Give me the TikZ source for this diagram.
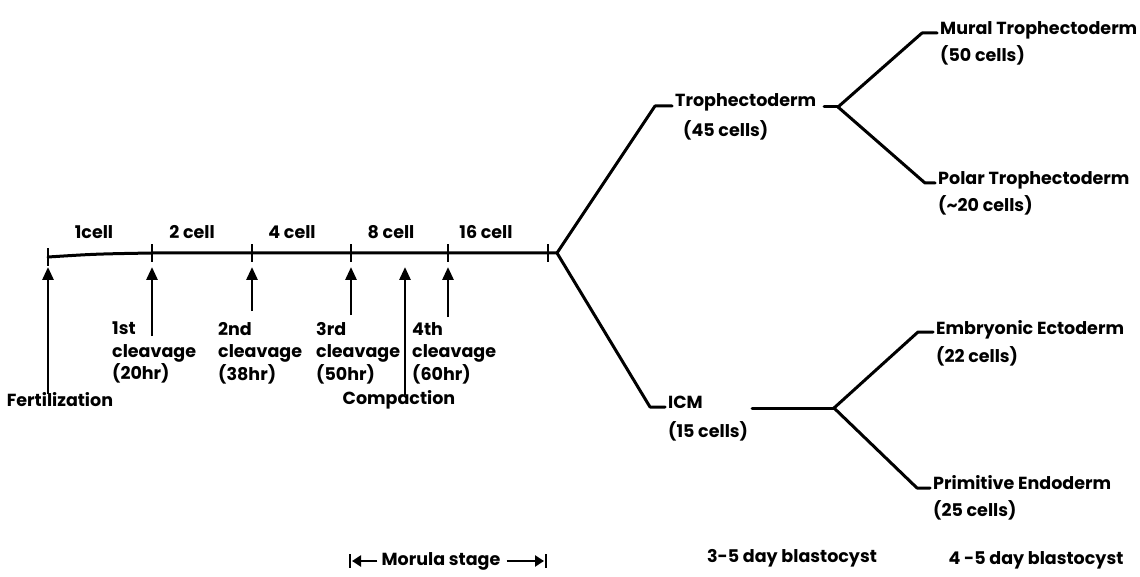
\documentclass[tikz,border=0pt]{standalone}
\usepackage{fontspec}
\setmainfont{Poppins}
\usetikzlibrary{arrows.meta}

\begin{document}
\begin{tikzpicture}[x=1pt,y=-1pt,
  lbl/.style={inner sep=0pt,font=\fontsize{17.5}{22.5}\selectfont\bfseries},
  lineart/.style={line width=3pt,line cap=round,line join=round},
  upArrow/.style={line width=2.8pt,-{Triangle[width=11pt,length=13pt]}},
  tick/.style={line width=2.8pt}]
\useasboundingbox (0,0) rectangle (1140,577);

% --- timeline ---
\coordinate (t0) at (48,257);
\coordinate (t1) at (152,253);
\coordinate (t2) at (252,253);
\coordinate (t3) at (351,253);
\coordinate (t4) at (448,253);
\coordinate (t5) at (548,253);
\coordinate (j0) at (557,253);
\draw[lineart] (t0) .. controls (95,254) .. (t1) -- (t5) -- (j0);
\foreach \t in {t0,t1,t2,t3,t4,t5}
  \draw[tick] ([yshift=-9pt]\t) -- ([yshift=9pt]\t);

% stage labels above the timeline
\node[lbl] (c1)  at (94,232)  {1cell};
\node[lbl] (c2)  at (192,232) {2 cell};
\node[lbl] (c4)  at (292,232) {4 cell};
\node[lbl] (c8)  at (391,232) {8 cell};
\node[lbl] (c16) at (486,232) {16 cell};

% --- events below the timeline ---
\coordinate (a0t) at (48,267);  \coordinate (a0b) at (48,394);
\coordinate (a1t) at (152,267); \coordinate (a1b) at (152,336);
\coordinate (a2t) at (252,267); \coordinate (a2b) at (252,311);
\coordinate (a3t) at (351,267); \coordinate (a3b) at (351,315);
\coordinate (act) at (405,267); \coordinate (acb) at (405,395);
\coordinate (a4t) at (448,267); \coordinate (a4b) at (448,317);
\foreach \a in {a0,a1,a2,a3,ac,a4}
  \draw[upArrow] (\a b) -- (\a t);

\node[lbl] (fert) at (60,400) {Fertilization};
\node[lbl] (comp) at (399,400) {Compaction};
\node[lbl,anchor=north west,align=left] (cl1) at (112,322) {1st\\cleavage\\(20hr)};
\node[lbl,anchor=north west,align=left] (cl2) at (218,322) {2nd\\cleavage\\(38hr)};
\node[lbl,anchor=north west,align=left] (cl3) at (316,322) {3rd\\cleavage\\(50hr)};
\node[lbl,anchor=north west,align=left] (cl4) at (412,322) {4th\\cleavage\\(60hr)};

% --- blastocyst lineages ---
\node[lbl,anchor=base west] (te)  at (675,107) {Trophectoderm};
\node[lbl,anchor=base west] (te2) at (683,137) {(45 cells)};
\node[lbl,anchor=base west] (icm)  at (668,408) {ICM};
\node[lbl,anchor=base west] (icm2) at (668,437) {(15 cells)};

\draw[lineart] (j0) -- (655,106) -- (672,106);
\draw[lineart] (j0) -- (650,407) -- (665,407);

\coordinate (j1) at (838,107);
\coordinate (j2) at (834,408);
\draw[lineart] (824,107) -- (j1);
\draw[lineart] (752,408) -- (j2);

\node[lbl,anchor=base west] (mte)  at (940,35)  {Mural Trophectoderm};
\node[lbl,anchor=base west] (mte2) at (940,62)  {(50 cells)};
\node[lbl,anchor=base west] (pte)  at (938,185) {Polar Trophectoderm};
\node[lbl,anchor=base west] (pte2) at (938,212) {(\textasciitilde 20 cells)};
\node[lbl,anchor=base west] (ee)   at (936,334) {Embryonic Ectoderm};
\node[lbl,anchor=base west] (ee2)  at (936,362) {(22 cells)};
\node[lbl,anchor=base west] (pe)   at (933,489) {Primitive Endoderm};
\node[lbl,anchor=base west] (pe2)  at (933,516) {(25 cells)};

\draw[lineart] (j1) -- (922,33)  -- (937,33);
\draw[lineart] (j1) -- (925,183) -- (935,183);
\draw[lineart] (j2) -- (918,332) -- (933,332);
\draw[lineart] (j2) -- (917,488) -- (930,488);

% --- stage spans along the bottom ---
\node[lbl] (mor) at (441,561) {Morula stage};
\coordinate (mL) at (352,561);
\coordinate (mR) at (544,561);
\draw[line width=2.6pt,-{Triangle[width=11pt,length=9pt]}] (mor.west) ++(-4,0) -- (mL);
\draw[line width=2.6pt,-{Triangle[width=11pt,length=9pt]}] (mor.east) ++(6,0) -- (mR);
\draw[tick] (350,554) -- (350,568);
\draw[tick] (546,554) -- (546,568);

\node[lbl] (b35) at (792,558) {3-5 day blastocyst};
\node[lbl] (b45) at (1036,560) {4 -5 day blastocyst};
\end{tikzpicture}
\end{document}
